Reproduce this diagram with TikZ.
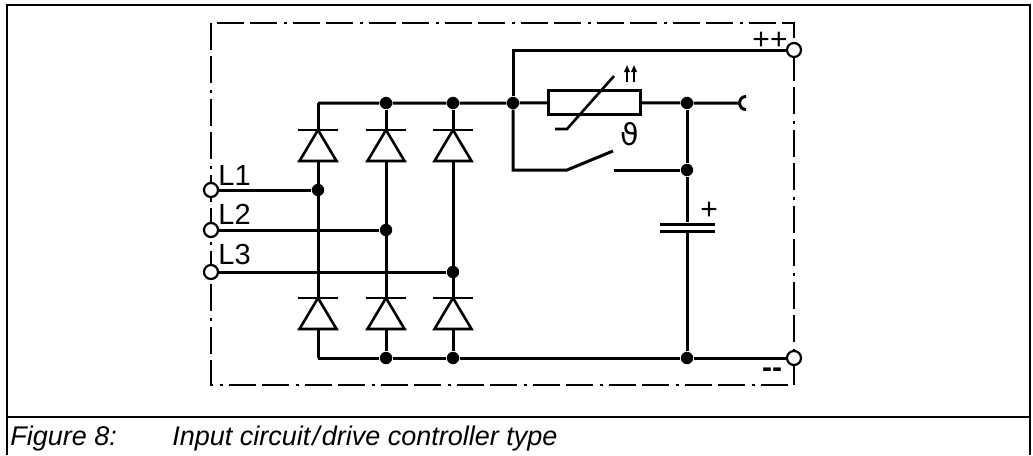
\documentclass[tikz,border=0pt]{standalone}
\usepackage{fontspec}
\setmainfont{Liberation Sans}
\newfontfamily\symfont{DejaVu Sans}
\usetikzlibrary{arrows.meta}

\tikzset{
  wire/.style={line width=1.5pt},
  dot/.style={circle,fill,inner sep=0pt,minimum size=6.2pt},
  term/.style={circle,draw,fill=white,line width=1.1pt,inner sep=0pt,minimum size=7pt},
  plate/.style={rectangle,fill,inner sep=0pt,minimum width=27.5pt,minimum height=1.5pt},
  ptc/.style={rectangle,draw,line width=1.5pt,fill=white,inner sep=0pt,minimum width=46pt,minimum height=12pt},
  lbl/.style={inner sep=0pt,anchor=base west,font=\fontsize{14.5}{16}\selectfont},
  sym/.style={inner sep=0pt,anchor=base,font=\fontsize{15}{17}\selectfont},
  capt/.style={inner sep=0pt,anchor=base west,font=\fontsize{13.5}{16}\selectfont\itshape},
  dashdot/.style={line width=1.4pt,dash pattern=on 13.5pt off 3pt on 13.5pt off 3.25pt on 1.5pt off 3.25pt},
  diode/.pic={
    \draw[line width=1.3pt] (-20,0) -- (20,0);
    \draw[line width=1.3pt,fill=white] (0,0) -- (18.5,31) -- (-18.5,31) -- cycle;
  }
}

\begin{document}
\begin{tikzpicture}[x=0.5pt,y=-0.5pt]
    \useasboundingbox (0,0) rectangle (1033,455);

    % figure frame and caption line
    \coordinate (o1) at (7,455);
    \coordinate (o2) at (7,5);
    \coordinate (o3) at (1030,5);
    \coordinate (o4) at (1030,455);
    \coordinate (sepl) at (7,417);
    \coordinate (sepr) at (1030,417);
    \draw[line width=1pt] (o1) -- (o2) -- (o3) -- (o4);
    \draw[line width=1pt] (sepl) -- (sepr);

    % caption
    \node[capt] (fig) at (10,445) {Figure 8:};
    \node[capt] (cap) at (172,445) {Input circuit\kern1pt/\kern1pt drive controller type};

    % device boundary
    \coordinate (fa) at (211,23);
    \coordinate (fb) at (794,385);
    \draw[dashdot] (fa) rectangle (fb);

    % mains terminals
    \node[term] (L1) at (211,190) {};
    \node[term] (L2) at (211,230) {};
    \node[term] (L3) at (211,272) {};
    \node[lbl] (tL1) at (218,185) {L1};
    \node[lbl] (tL2) at (218,224) {L2};
    \node[lbl] (tL3) at (218,264) {L3};

    % dc link terminals
    \node[term] (pp) at (794,50) {};
    \node[term] (mm) at (794,358) {};
    \node[sym] (tpp) at (770,49) {++};
    \node[sym] (tmm) at (772,377) {\textbf{-{}-}};

    % bridge corners and junctions
    \coordinate (c1t) at (318,103);
    \coordinate (c1b) at (318,358);
    \node[dot] (t1) at (386,103) {};
    \node[dot] (t2) at (453,103) {};
    \node[dot] (t3) at (513,103) {};
    \node[dot] (t4) at (687,103) {};
    \node[dot] (j1) at (318,190) {};
    \node[dot] (j2) at (386,230) {};
    \node[dot] (j3) at (453,272) {};
    \node[dot] (b2) at (386,358) {};
    \node[dot] (b3) at (453,358) {};
    \node[dot] (b4) at (687,358) {};
    \node[dot] (s1) at (687,170) {};

    % charging resistor (PTC)
    \node[ptc] (ptc) at (594.5,102.5) {};
    \node[inner sep=0pt,font=\symfont\fontsize{15}{18}\selectfont] (theta) at (630,134) {ϑ};

    % dc link capacitor
    \node[plate] (C1) at (687,224) {};
    \node[plate] (C2) at (687,231) {};
    \node[sym] (tcap) at (709,219) {+};

    % input lines
    \draw[wire] (L1) -- (j1);
    \draw[wire] (L2) -- (j2);
    \draw[wire] (L3) -- (j3);

    % bridge columns
    \draw[wire] (c1t) -- (c1b);
    \draw[wire] (t1) -- (b2);
    \draw[wire] (t2) -- (b3);

    % plus rail
    \coordinate (sock) at (740,103);
    \draw[wire] (c1t) -- (t1) -- (t2) -- (t3) -- (ptc) -- (t4) -- (sock);
    \draw[wire] (t3) -- (t3 |- pp) -- (pp);

    % minus rail
    \draw[wire] (c1b) -- (b2) -- (b3) -- (b4) -- (mm);

    % socket
    \coordinate (soa) at (746,96.5);
    \coordinate (sob) at (746,109.5);
    \draw[wire] (soa) .. controls (737.5,96.5) and (737.5,109.5) .. (sob);

    % bypass switch
    \coordinate (swa) at (567,170);
    \coordinate (swb) at (613,151);
    \coordinate (swc) at (614,170);
    \draw[wire] (t3) -- (t3 |- swa) -- (swa) -- (swb);
    \draw[wire] (swc) -- (s1);

    % capacitor leg
    \draw[wire] (t4) -- (s1) -- (C1);
    \draw[wire] (C2) -- (b4);

    % PTC characteristic
    \coordinate (pa) at (555,129);
    \coordinate (pb) at (567,129);
    \coordinate (pc) at (614,76);
    \draw[line width=1.3pt] (pa) -- (pb) -- (pc);

    % PTC arrows
    \coordinate (aa) at (627,82);
    \coordinate (ab) at (627,65);
    \coordinate (ac) at (634,82);
    \coordinate (ad) at (634,65);
    \draw[line width=0.8pt,-{Triangle[length=3.5pt,width=2.8pt]}] (aa) -- (ab);
    \draw[line width=0.8pt,-{Triangle[length=3.5pt,width=2.8pt]}] (ac) -- (ad);

    % diodes
    \pic (du1) at (318,130) {diode};
    \pic (du2) at (386,130) {diode};
    \pic (du3) at (453,130) {diode};
    \pic (dl1) at (318,298) {diode};
    \pic (dl2) at (386,298) {diode};
    \pic (dl3) at (453,298) {diode};

\end{tikzpicture}
\end{document}
